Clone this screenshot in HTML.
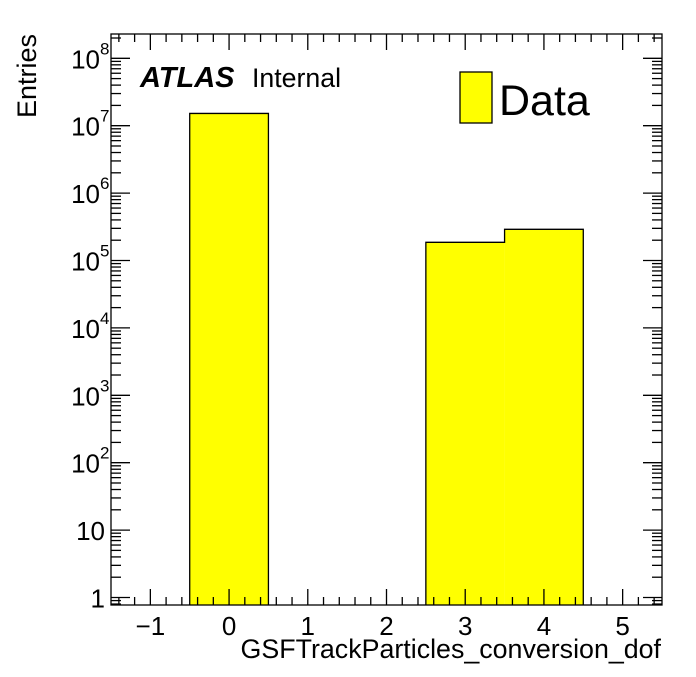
<!DOCTYPE html>
<html><head><meta charset="utf-8"><style>
body{margin:0;background:#fff}
svg text{font-family:"Liberation Sans",sans-serif;fill:#000}
</style></head><body>
<svg id="c" width="696" height="672" xmlns="http://www.w3.org/2000/svg">
<rect width="696" height="672" fill="#fff"/>
</svg>
<script>
const binCenters=[-1,0,1,2,3,4,5];
const entries=[0,1.52e7,0,0,1.86e5,2.9e5,0];
const xTickLabels=["\u22121","0","1","2","3","4","5"];
const yDecades=[0,1,2,3,4,5,6,7,8];
const L=111,R=662,T=34,B=605;
const xMin=-1.5,xMax=5.5;
const y1=597.5,dec=67.4;
const X=v=>L+(v-xMin)/(xMax-xMin)*(R-L);
const Y=v=>y1-Math.log10(v)*dec;
const svg=document.getElementById('c');
const NS="http://www.w3.org/2000/svg";
function mk(t,a,parent){const e=document.createElementNS(NS,t);for(const k in a)e.setAttribute(k,a[k]);(parent||svg).appendChild(e);return e;}
// bars
const gBars=mk('g',{});


let d='';let prevTop=B;
binCenters.forEach((c,i)=>{
  const top=entries[i]>0?Math.max(T,Y(entries[i])):B;
  if(entries[i]>0){
    const r=mk('rect',{x:X(c-0.5),y:top,width:X(c+0.5)-X(c-0.5),height:B-top,fill:'#ffff00'},gBars);
    
    
  }
  const x0=X(c-0.5),x1=X(c+0.5);
  if(top!==prevTop) d+=(d?'':'M'+x0+' '+prevTop)+' L'+x0+' '+top;
  if(top!==B){ if(!d) d='M'+x0+' '+top; d+=' L'+x1+' '+top; }
  else if(d) d+=' M'+x1+' '+B;
  prevTop=top;
});
const ol=mk('path',{d:d,fill:'none',stroke:'#000','stroke-width':1.3},gBars);


// axes ticks
const gAx=mk('g',{stroke:'#000','stroke-width':1.3});


for(let v=-1.4;v<=5.41;v+=0.2){
  const vv=Math.round(v*10)/10;const major=Math.abs(vv-Math.round(vv))<1e-6;
  const len=major?16:8;const x=X(vv);
  mk('line',{x1:x,y1:B,x2:x,y2:B-len},gAx);
  mk('line',{x1:x,y1:T,x2:x,y2:T+len},gAx);
}
for(let dd=-1;dd<=8;dd++){
  for(let m=1;m<=9;m++){
    const v=m*Math.pow(10,dd);const y=Y(v);
    if(y>B||y<T)continue;
    const len=m===1?19:10;
    mk('line',{x1:L,y1:y,x2:L+len,y2:y},gAx);
    mk('line',{x1:R,y1:y,x2:R-len,y2:y},gAx);
  }
}
const fr=mk('rect',{x:L,y:T,width:R-L,height:B-T,fill:'none',stroke:'#000','stroke-width':1.3});


// x tick labels
binCenters.forEach((c,i)=>{
  const t=mk('text',{x:X(c),y:635,'font-size':26,'text-anchor':'middle'});
  t.textContent=xTickLabels[i];
  
  
});
// y tick labels
yDecades.forEach(dd=>{
  const y=Y(Math.pow(10,dd))+10;
  const t=mk('text',{x:dd<=1?105:100,y:y,'font-size':26,'text-anchor':'end'});
  
  
  if(dd===0)t.textContent='1';
  else if(dd===1)t.textContent='10';
  else{
    t.textContent='10';
    const s=mk('text',{x:100,y:y-14,'font-size':17});
    s.textContent=String(dd);
    
    
  }
});
</script>
<svg style="position:absolute;left:0;top:0" width="696" height="672" xmlns="http://www.w3.org/2000/svg">
<text transform="translate(36,118) rotate(-90)" font-size="27" style="font-family:'Liberation Sans',sans-serif">Entries</text>
<text x="661" y="658" text-anchor="end" font-size="26.8" style="font-family:'Liberation Sans',sans-serif">GSFTrackParticles_conversion_dof</text>
<text x="140" y="87" font-size="29" font-weight="bold" font-style="italic" style="font-family:'Liberation Sans',sans-serif">ATLAS</text>
<text x="252" y="87" font-size="26.7" style="font-family:'Liberation Sans',sans-serif">Internal</text>
<rect x="460" y="72" width="32" height="51" fill="#ffff00" stroke="#000" stroke-width="1.3"/>
<text x="499" y="115" font-size="43" style="font-family:'Liberation Sans',sans-serif">Data</text>
</svg>
</body></html>
